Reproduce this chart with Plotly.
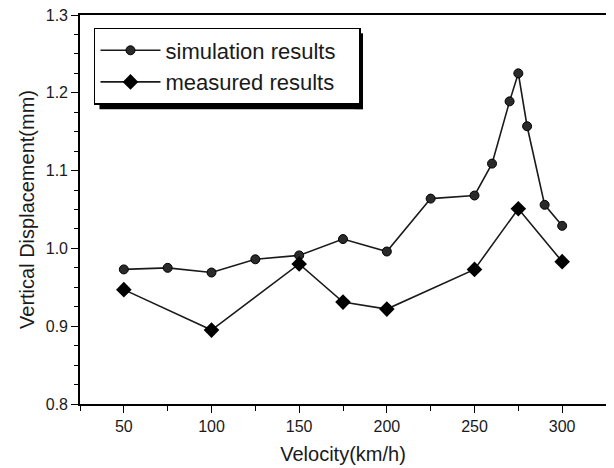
import plotly.graph_objects as go

# Data
sim_velocity = [50, 75, 100, 125, 150, 175, 200, 225, 250, 260, 270, 275, 280, 290, 300]
sim_displacement = [0.973, 0.975, 0.969, 0.986, 0.991, 1.012, 0.996, 1.064, 1.068,
                    1.109, 1.189, 1.225, 1.157, 1.056, 1.029]

meas_velocity = [50, 100, 150, 175, 200, 250, 275, 300]
meas_displacement = [0.947, 0.895, 0.980, 0.931, 0.922, 0.973, 1.051, 0.983]

series_names = ["simulation results", "measured results"]

FONT = "Arial, 'Liberation Sans', Helvetica, sans-serif"
INK = "#1a1a1a"
PAD = "\u00a0\u00a0\u00a0"

fig = go.Figure()
fig.add_trace(go.Scatter(
    x=sim_velocity, y=sim_displacement, mode="lines+markers",
    name=series_names[0] + PAD,
    line=dict(color=INK, width=1.6),
    marker=dict(symbol="circle", size=9, color="#2a2a2a",
                line=dict(color="#000000", width=1)),
))
fig.add_trace(go.Scatter(
    x=meas_velocity, y=meas_displacement, mode="lines+markers",
    name=series_names[1] + PAD,
    line=dict(color=INK, width=1.6),
    marker=dict(symbol="diamond", size=12, color="#000000",
                line=dict(color="#000000", width=0)),
))

# legend drop shadow: a right strip and a bottom strip just outside the legend box
fig.add_shape(type="rect", xref="paper", yref="paper",
              x0=0.523, x1=0.538, y0=0.758, y1=0.953,
              fillcolor="#000000", line=dict(width=0), layer="above")
fig.add_shape(type="rect", xref="paper", yref="paper",
              x0=0.037, x1=0.538, y0=0.758, y1=0.778,
              fillcolor="#000000", line=dict(width=0), layer="above")

# The page adds an 8px body margin, so the figure is sized to fit the window.
fig.update_layout(
    width=606, height=460,
    margin=dict(l=72, r=8, t=7, b=64),
    paper_bgcolor="white", plot_bgcolor="white",
    font=dict(family=FONT, color=INK, size=16),
    showlegend=True,
    legend=dict(
        x=0.0266, y=0.9666, xanchor="left", yanchor="top",
        bgcolor="white", bordercolor="#000000", borderwidth=1.5,
        font=dict(family=FONT, size=22, color=INK),
        tracegroupgap=0, itemwidth=60,
    ),
)

fig.update_xaxes(
    range=[25, 325], tickmode="linear", tick0=0, dtick=50, automargin=False,
    ticklabeloverflow="allow",
    showgrid=False, zeroline=False,
    showline=True, linecolor="#000000", linewidth=1.6, mirror=True,
    ticks="outside", ticklen=7, tickwidth=1.4, tickcolor="#000000",
    minor=dict(dtick=25, tick0=25, ticks="outside", ticklen=5, tickwidth=1.2, tickcolor="#000000"),
    tickfont=dict(size=16, family=FONT, color=INK),
    title=dict(text="Velocity(km/h)", font=dict(size=20, family=FONT, color=INK), standoff=13),
)
fig.update_yaxes(
    range=[0.8, 1.3], tickmode="linear", tick0=0.8, dtick=0.1, tickformat=".1f", automargin=False,
    ticklabeloverflow="allow",
    showgrid=False, zeroline=False,
    showline=True, linecolor="#000000", linewidth=1.6, mirror=True,
    ticks="outside", ticklen=7, tickwidth=1.4, tickcolor="#000000",
    minor=dict(dtick=0.025, tick0=0.8, ticks="outside", ticklen=4, tickwidth=1.0, tickcolor="#000000"),
    tickfont=dict(size=16, family=FONT, color=INK),
    title=dict(text="Vertical Displacement(mm)", font=dict(size=20, family=FONT, color=INK), standoff=6),
)

fig.write_html("out.html")
